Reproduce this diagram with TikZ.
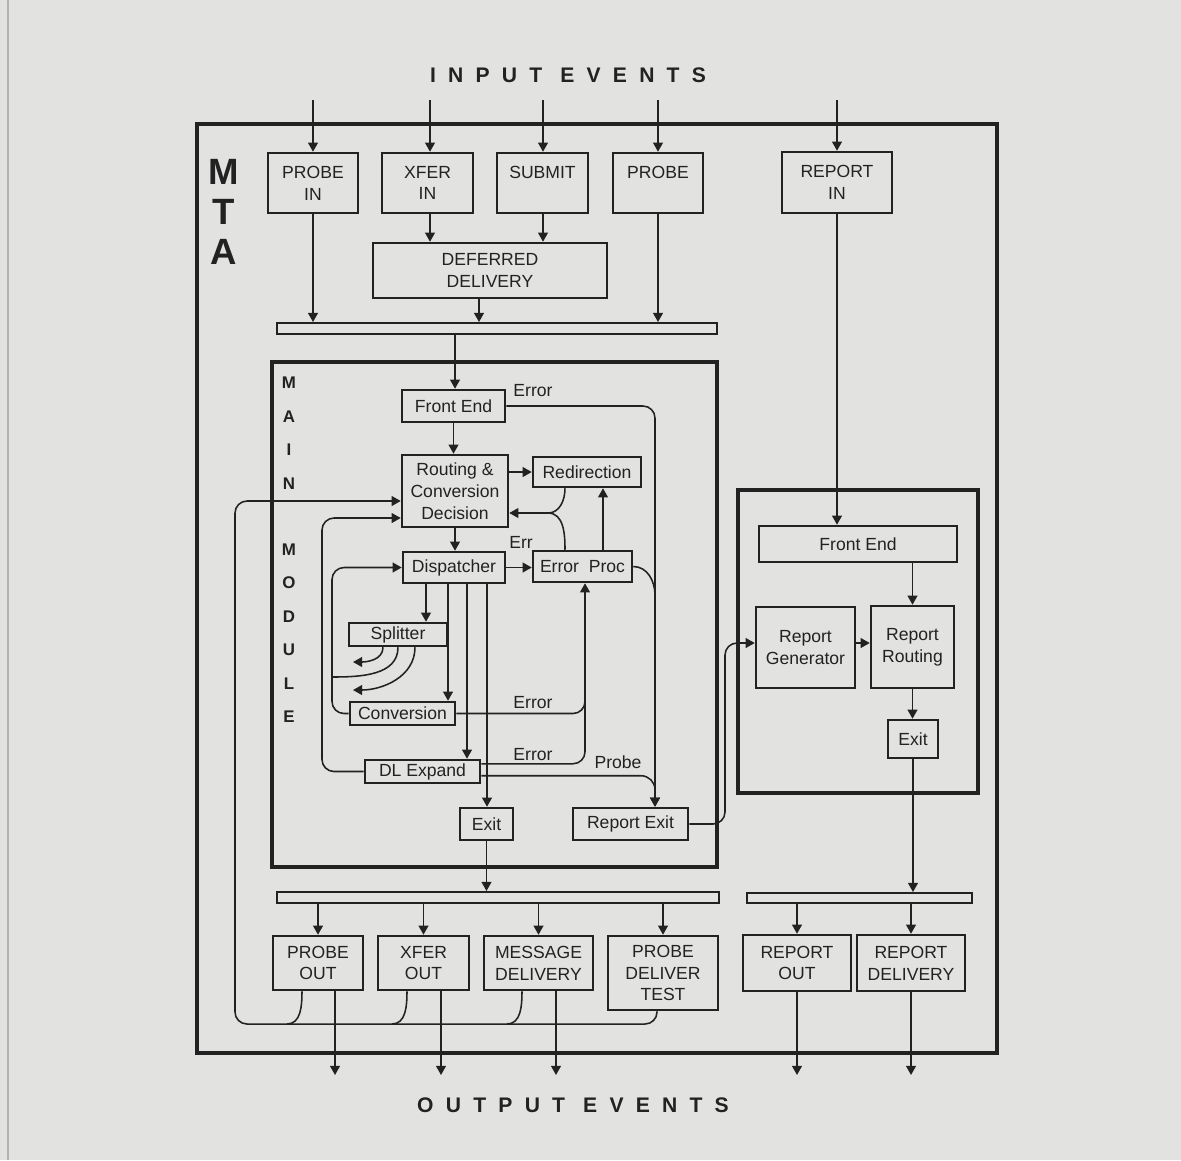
\documentclass[tikz,border=0pt]{standalone}
\usepackage{fontspec}
\setmainfont{Liberation Sans}
\usetikzlibrary{arrows.meta}
\definecolor{bgc}{RGB}{226,226,224}
\definecolor{ink}{RGB}{34,34,34}
\newcommand\lbl{\fontsize{12.5}{15.5}\selectfont}
\newcommand\ttlfont{\fontsize{15}{18}\selectfont\bfseries\addfontfeature{LetterSpace=58}}
\begin{document}
\begin{tikzpicture}[x=0.025cm,y=-0.025cm,
  bx/.style={draw=ink, line width=1.8pt, inner sep=0pt, align=center, font=\lbl, text=ink},
  sz/.style 2 args={minimum width=#1*0.025cm, minimum height=#2*0.025cm},
  barbox/.style={draw=ink, line width=1.4pt, inner sep=0pt},
  modbox/.style={draw=ink, line width=2.3pt, inner sep=0pt},
  arr/.style={draw=ink, line width=1.1pt, -{Triangle[length=6.5pt,width=7pt]}},
  ln/.style={draw=ink, line width=1.1pt},
  lab/.style={font=\lbl, text=ink, inner sep=0pt},
  ttl/.style={font=\ttlfont, text=ink, inner sep=0pt},
  vert/.style={font=\fontsize{12}{23.8}\selectfont\bfseries, text=ink, inner sep=0pt, align=center},
]
\fill[bgc] (0,0) rectangle (1181,1160);
\useasboundingbox (0,0) rectangle (1181,1160);
\draw[ink!35, line width=0.8pt] (8,0) -- (8,1160);

% helper coordinates
\foreach \xx in {235,302,287,313,322,332,335,353,383,392,398,407,415,426,430,441,448,455,467,479,487,507,522,543,548,556,565,585,603,655,657,725,837}
  {\coordinate (c\xx) at (\xx,0);}
\foreach \yy in {100,501,513,518,595,643,662,677,690,700,1024,1075}
  {\coordinate (r\yy) at (0,\yy);}

% frames
\node[draw=ink, line width=2.4pt, inner sep=0pt, sz={800}{929}] (mta) at (597,588.5) {};
\node[modbox, sz={445}{505}] (mm) at (494.5,614.5) {};
\node[modbox, sz={240}{303}] (rm) at (858,641.5) {};

% titles
\node[ttl] (inev) at (568,75) {INPUT EVENTS};
\node[ttl] (outev) at (573,1105) {OUTPUT EVENTS};
\node[font=\fontsize{26}{28.5}\selectfont\bfseries, text=ink, inner sep=0pt, align=center] (mtalbl) at (224,212) {M\\T\\A};
\node[vert] (mainlbl) at (289,433) {M\\A\\I\\N};
\node[vert] (modlbl) at (289,633) {M\\O\\D\\U\\L\\E};

% input boxes
\node[bx, sz={90}{60}] (probein) at (313,183) {PROBE\\IN};
\node[bx, sz={91}{60}] (xferin) at (427.5,183) {XFER\\IN};
\node[bx, sz={91}{60}] (submit) at (542.5,183) {SUBMIT\\~};
\node[bx, sz={90}{60}] (probe) at (658,183) {PROBE\\~};
\node[bx, sz={110}{61}] (reportin) at (837,182.5) {REPORT\\IN};
\node[bx, sz={234}{55}] (deferred) at (490,270.5) {DEFERRED\\DELIVERY};
\node[barbox, sz={440}{11}] (bar1) at (497,328.5) {};

% main module
\node[bx, sz={103}{32}] (fe) at (453.5,406) {Front End};
\node[bx, sz={106}{72}] (rcd) at (455,491) {Routing \&\\Conversion\\Decision};
\node[bx, sz={108}{30}] (redir) at (587,472) {Redirection};
\node[bx, sz={102}{31}] (disp) at (454,567.5) {Dispatcher};
\node[bx, sz={99}{31}] (errp) at (582.5,566.5) {Error\ \ Proc};
\node[bx, sz={98}{23}] (splitter) at (398,634.5) {Splitter};
\node[bx, sz={105}{23}] (conv) at (402.5,713.5) {Conversion};
\node[bx, sz={115}{23}] (dlexp) at (422.5,771.5) {DL Expand};
\node[bx, sz={53}{32}] (exit) at (486.5,824) {Exit};
\node[bx, sz={115}{32}] (repexit) at (630.5,824) {Report Exit};

% report module
\node[bx, sz={198}{36}] (rfe) at (858,544) {Front End};
\node[bx, sz={99}{81}] (rgen) at (805.5,647.5) {Report\\Generator};
\node[bx, sz={83}{82}] (rrout) at (912.5,647) {Report\\Routing};
\node[bx, sz={50}{38}] (rexit) at (913,739) {Exit};

% output side
\node[barbox, sz={442}{11}] (bar2) at (498,897.5) {};
\node[barbox, sz={225}{10}] (bar3) at (859.5,898) {};
\node[bx, sz={90}{54}] (pout) at (318,963) {PROBE\\OUT};
\node[bx, sz={91}{54}] (xout) at (423.5,963) {XFER\\OUT};
\node[bx, sz={109}{54}] (md) at (538.5,963) {MESSAGE\\DELIVERY};
\node[bx, sz={110}{74}] (pdt) at (663,973) {PROBE\\DELIVER\\TEST};
\node[bx, sz={108}{56}] (rout) at (797,963) {REPORT\\OUT};
\node[bx, sz={108}{56}] (rdel) at (911,963) {REPORT\\DELIVERY};

% labels
\node[lab] (l1) at (533,391) {Error};
\node[lab] (l2) at (521,542) {Err};
\node[lab] (l3) at (533,703) {Error};
\node[lab] (l4) at (533,755) {Error};
\node[lab] (l5) at (618,762) {Probe};

% input arrows
\draw[arr] (probein.north |- r100) -- (probein.north);
\draw[arr] (c430 |- r100) -- (c430 |- xferin.north);
\draw[arr] (c543 |- r100) -- (c543 |- submit.north);
\draw[arr] (probe.north |- r100) -- (probe.north);
\draw[arr] (c837 |- r100) -- (c837 |- reportin.north);
\draw[arr] (probein.south) -- (probein.south |- bar1.north);
\draw[arr] (xferin.south -| c430) -- (c430 |- deferred.north);
\draw[arr] (submit.south -| c543) -- (c543 |- deferred.north);
\draw[arr] (deferred.south -| c479) -- (c479 |- bar1.north);
\draw[arr] (probe.south) -- (probe.south |- bar1.north);
\draw[arr] (bar1.south -| c455) -- (c455 |- fe.north);
\draw[arr] (reportin.south -| c837) -- (c837 |- rfe.north);

% main module flow
\draw[arr] (fe.south) -- (fe.south |- rcd.north);
\draw[arr] (rcd.east |- redir.west) -- (redir.west);
\draw[arr] (rcd.south) -- (rcd.south |- disp.north);
\draw[arr] (disp.east) -- (disp.east -| errp.west);
\draw[arr] (errp.north -| c603) -- (c603 |- redir.south);
\draw[ln] (redir.south -| c565) to[out=-90,in=0] (c548 |- r513);
\draw[arr] (errp.north -| c565) to[out=90,in=0] (c548 |- r513) -- (rcd.east |- r513);
\draw[arr, rounded corners=0.3cm] (fe.east) -| (c655 |- repexit.north);
\draw[ln] (errp.east) to[out=0,in=90] (c655 |- r595);

\draw[arr] (disp.south -| c426) -- (c426 |- splitter.north);
\draw[arr] (disp.south -| c448) -- (c448 |- conv.north);
\draw[arr] (disp.south -| c467) -- (c467 |- dlexp.north);
\draw[arr] (disp.south -| c487) -- (c487 |- exit.north);
\draw[arr] (exit.south) -- (exit.south |- bar2.north);

\draw[arr] (splitter.south -| c383) to[out=-90,in=0] (c353 |- r662);
\draw[ln] (splitter.south -| c398) to[out=-90,in=0] (c332 |- r677);
\draw[arr] (splitter.south -| c415) to[out=-90,in=0] (c353 |- r690);

\draw[arr, rounded corners=0.3cm] (conv.west) -| (c332 |- disp.west) -- (disp.west);
\draw[arr, rounded corners=0.3cm] (dlexp.west) -| (c322 |- r518) -- (rcd.west |- r518);
\draw[arr, rounded corners=0.3cm] (conv.east) -| (c585 |- errp.south);
\draw[ln, rounded corners=0.3cm] ([yshift=5.5pt]dlexp.east) -| (c585 |- r700);
\draw[arr, rounded corners=0.35cm] ([yshift=-3pt]dlexp.east) -| (c655 |- repexit.north);

% report exit to report generator
\draw[arr, rounded corners=0.3cm] (repexit.east) -| (c725 |- r643) -- (rgen.west |- r643);

% report module flow
\draw[arr] (rfe.south -| rrout.north) -- (rrout.north);
\draw[arr] (rgen.east |- r643) -- (rrout.west |- r643);
\draw[arr] (rrout.south) -- (rrout.south |- rexit.north);
\draw[arr] (rexit.south) -- (rexit.south |- bar3.north);

% output distribution
\draw[arr] (bar2.south -| pout.north) -- (pout.north);
\draw[arr] (bar2.south -| xout.north) -- (xout.north);
\draw[arr] (bar2.south -| md.north) -- (md.north);
\draw[arr] (bar2.south -| pdt.north) -- (pdt.north);
\draw[arr] (bar3.south -| rout.north) -- (rout.north);
\draw[arr] (bar3.south -| rdel.north) -- (rdel.north);

\draw[arr] (pout.south -| c335) -- (c335 |- r1075);
\draw[arr] (xout.south -| c441) -- (c441 |- r1075);
\draw[arr] (md.south -| c556) -- (c556 |- r1075);
\draw[arr] (rout.south) -- (rout.south |- r1075);
\draw[arr] (rdel.south) -- (rdel.south |- r1075);

% failure loop back to routing
\draw[arr, rounded corners=0.3cm] (pdt.south -| c657) |- (c235 |- r1024) |- (rcd.west |- r501);
\draw[ln] (pout.south -| c302) to[out=-90,in=0] (c287 |- r1024);
\draw[ln] (xout.south -| c407) to[out=-90,in=0] (c392 |- r1024);
\draw[ln] (md.south -| c522) to[out=-90,in=0] (c507 |- r1024);
\end{tikzpicture}
\end{document}
